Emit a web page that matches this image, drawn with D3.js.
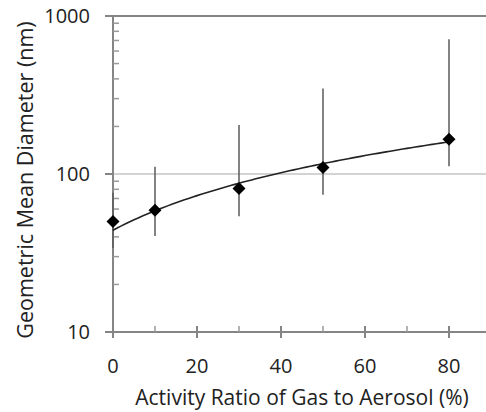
<!DOCTYPE html>
<html>
<head>
<meta charset="utf-8">
<script src="https://cdn.jsdelivr.net/npm/d3@7"></script>
<style>
  body { margin: 0; background: #fff; }
  text { font-family: "Open Sans", sans-serif; fill: #222; }
</style>
</head>
<body>
<div id="chart"></div>
<script>

// activity ratio (%) and geometric mean diameter (nm)
var activityRatio = [0, 10, 30, 50, 80];
var meanDiameter  = [50, 59, 81, 110, 166];
var errHigh       = [76, 111, 204, 348, 713];
var errLow        = [34, 40.5, 54, 74, 112];

var xTicks = [0, 20, 40, 60, 80];
var xMinorTicks = [10, 30, 50, 70];
var yTicks = [10, 100, 1000];
var yMinorTicks = [20, 30, 40, 50, 60, 70, 80, 90, 200, 300, 400, 500, 600, 700, 800, 900];

var w = 486, h = 412;
var margin = {top: 16, left: 113, bottom: 80, right: -5};
var width = w - margin.left - margin.right,
    height = h - margin.top - margin.bottom;

var svg = d3.select("#chart").append("svg")
    .attr("width", w)
    .attr("height", h)
    .append("g")
    .attr("transform", "translate(" + margin.left + "," + margin.top + ")");

var x = d3.scaleLinear().domain([0, 90]).range([0, width]);
var y = d3.scaleLog().domain([10, 1000]).range([height, 0]);

// gridline at 100, darker line on top at 1000
svg.append("line")
    .attr("x1", 0).attr("x2", width)
    .attr("y1", y(100)).attr("y2", y(100))
    .attr("stroke", "#c4c4c4").attr("stroke-width", 1.5);
svg.append("line")
    .attr("x1", -8).attr("x2", width)
    .attr("y1", y(1000)).attr("y2", y(1000))
    .attr("stroke", "#858585").attr("stroke-width", 2);

// axes lines
svg.append("line")
    .attr("x1", 0).attr("x2", 0)
    .attr("y1", 0).attr("y2", height + 6)
    .attr("stroke", "#858585").attr("stroke-width", 2);
svg.append("line")
    .attr("x1", -8).attr("x2", width)
    .attr("y1", height).attr("y2", height)
    .attr("stroke", "#858585").attr("stroke-width", 2);

// y ticks
svg.selectAll(".ymajor").data(yTicks).enter().append("line")
    .attr("class", "ymajor")
    .attr("x1", -8).attr("x2", 0)
    .attr("y1", function(d) { return y(d); })
    .attr("y2", function(d) { return y(d); })
    .attr("stroke", "#858585").attr("stroke-width", 2);
svg.selectAll(".yminor").data(yMinorTicks).enter().append("line")
    .attr("class", "yminor")
    .attr("x1", 0).attr("x2", 6)
    .attr("y1", function(d) { return y(d); })
    .attr("y2", function(d) { return y(d); })
    .attr("stroke", "#9a9a9a").attr("stroke-width", 1.5);
svg.selectAll(".ylabel").data(yTicks).enter().append("text")
    .attr("class", "ylabel")
    .attr("x", -23)
    .attr("y", function(d) { return y(d); })
    .attr("dy", "0.35em")
    .style("text-anchor", "end")
    .style("font-size", "20px")
    .text(function(d) { return d; });

// x ticks
svg.selectAll(".xmajor").data(xTicks).enter().append("line")
    .attr("class", "xmajor")
    .attr("x1", function(d) { return x(d); })
    .attr("x2", function(d) { return x(d); })
    .attr("y1", height - 6).attr("y2", height + 6)
    .attr("stroke", "#858585").attr("stroke-width", 2);
svg.selectAll(".xminor").data(xMinorTicks).enter().append("line")
    .attr("class", "xminor")
    .attr("x1", function(d) { return x(d); })
    .attr("x2", function(d) { return x(d); })
    .attr("y1", height - 6).attr("y2", height)
    .attr("stroke", "#9a9a9a").attr("stroke-width", 1.5);
svg.selectAll(".xlabel").data(xTicks).enter().append("text")
    .attr("class", "xlabel")
    .attr("x", function(d) { return x(d); })
    .attr("y", height + 41)
    .style("text-anchor", "middle")
    .style("font-size", "20px")
    .text(function(d) { return d; });

// axis titles
svg.append("text")
    .attr("x", (x(0) + x(90)) / 2)
    .attr("y", height + 73)
    .style("text-anchor", "middle")
    .style("font-size", "21px")
    .text("Activity Ratio of Gas to Aerosol (%)");

svg.append("text")
    .attr("transform", "rotate(-90)")
    .attr("x", -(180 - margin.top))
    .attr("y", 25 - margin.left)
    .attr("dy", "0.35em")
    .style("text-anchor", "middle")
    .style("font-size", "21.5px")
    .text("Geometric Mean Diameter (nm)");

// data rows
var points = activityRatio.map(function(d, i) {
    return {x: d, y: meanDiameter[i], hi: errHigh[i], lo: errLow[i]};
});

// error bars
svg.selectAll(".err").data(points).enter().append("line")
    .attr("class", "err")
    .attr("x1", function(d) { return x(d.x); })
    .attr("x2", function(d) { return x(d.x); })
    .attr("y1", function(d) { return y(d.hi); })
    .attr("y2", function(d) { return y(d.lo); })
    .attr("stroke", "#5a5a5a").attr("stroke-width", 1.5);

// linear trendline (least squares)
var mx = d3.mean(activityRatio), my = d3.mean(meanDiameter);
var sxy = d3.sum(points, function(d) { return (d.x - mx) * (d.y - my); });
var sxx = d3.sum(points, function(d) { return (d.x - mx) * (d.x - mx); });
var slope = sxy / sxx, intercept = my - slope * mx;
var trendX = d3.range(0, 80.5, 1);
var line = d3.line()
    .x(function(d) { return x(d); })
    .y(function(d) { return y(intercept + slope * d); });
svg.append("path")
    .datum(trendX)
    .attr("d", line)
    .attr("fill", "none")
    .attr("stroke", "#222")
    .attr("stroke-width", 1.6);

// diamond markers
var r = 6.5;
svg.selectAll(".marker").data(points).enter().append("path")
    .attr("class", "marker")
    .attr("d", function(d) {
        var cx = x(d.x), cy = y(d.y);
        return "M" + cx + "," + (cy - r) + "L" + (cx + r) + "," + cy +
            "L" + cx + "," + (cy + r) + "L" + (cx - r) + "," + cy + "Z";
    })
    .attr("fill", "#000");

</script>
</body>
</html>
